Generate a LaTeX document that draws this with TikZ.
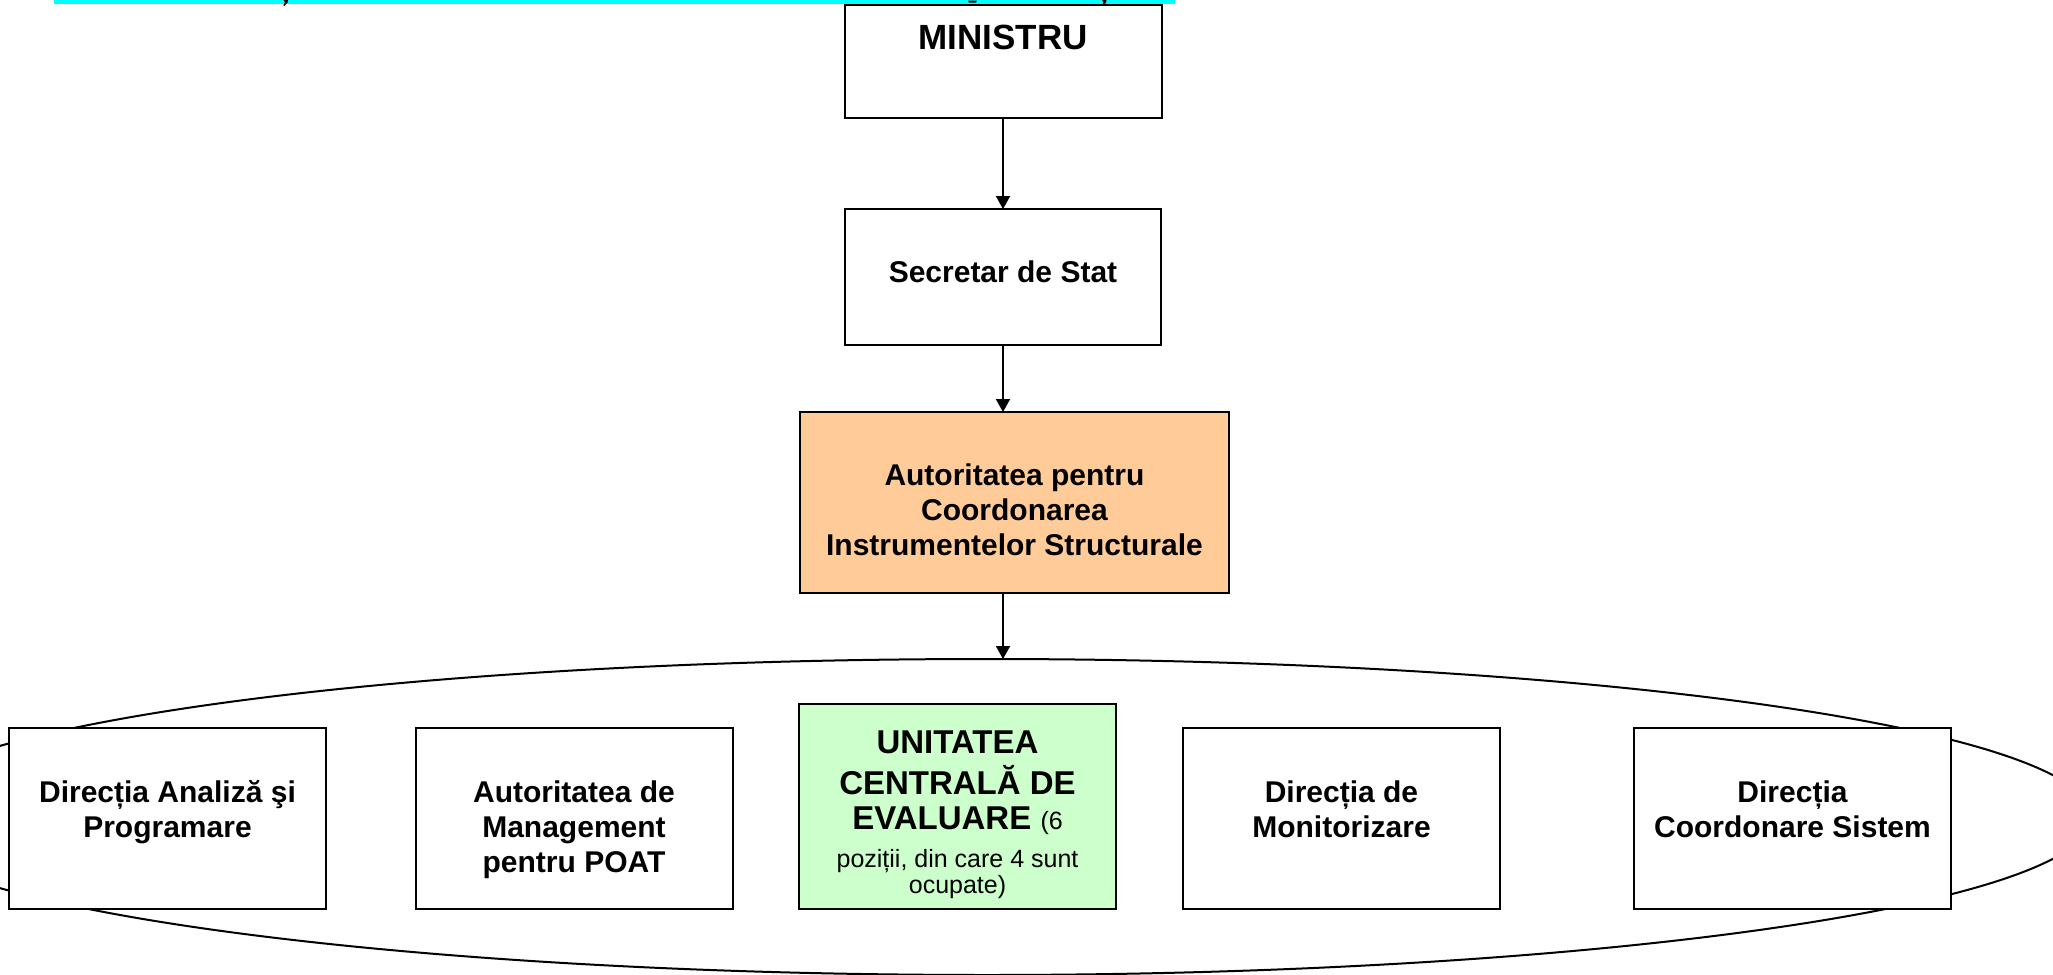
\documentclass[tikz,border=0pt]{standalone}
\usepackage{fontspec}
\setmainfont{Liberation Sans}
\usetikzlibrary{arrows.meta,shapes.geometric}
\definecolor{band}{RGB}{0,255,255}
\definecolor{peach}{RGB}{255,204,153}
\definecolor{mint}{RGB}{204,255,204}
\begin{document}
\begin{tikzpicture}[x=0.5pt,y=-0.5pt,
  boxst/.style={draw=black,line width=1pt,fill=white,inner sep=0pt,outer sep=0pt,rectangle},
  lowbox/.style={boxst,minimum width=158.5pt,minimum height=90.5pt},
  txt/.style={inner sep=0pt,outer sep=0pt,align=center,font=\fontsize{15}{17.5}\selectfont\bfseries},
  arr/.style={line width=1pt,-{Triangle[width=7pt,length=6.5pt]}},
]
\clip (0,0) rectangle (2053,975);
\useasboundingbox (0,0) rectangle (2053,975);
% top cyan band with cut-off descenders
\fill[band] (54,0) rectangle (1175,3.5);
\fill[black] (283.5,0) -- (288,0) -- (287.5,2.5) -- (284.5,6) -- (283.3,5.3) -- (285,2.5) -- cycle;
\fill[black] (968,0.5) -- (977,0.5) -- (976,2.6) -- (969,2.6) -- cycle;
\fill[black] (1102,0) -- (1106.5,0) -- (1106,2.5) -- (1103,6) -- (1101.8,5.3) -- (1103.5,2.5) -- cycle;

% group ellipse
\node[draw=black,line width=1pt,ellipse,minimum width=1105pt,minimum height=158pt,inner sep=0pt,outer sep=0pt] (grp) at (987,817) {};

\coordinate (ax) at (1003,0);

% boxes
\node[boxst,minimum width=158.5pt,minimum height=56.5pt] (min) at (1003.5,61.5) {};
\node[boxst,minimum width=158pt,minimum height=68pt] (sec) at (1003,277) {};
\node[boxst,fill=peach,minimum width=214.5pt,minimum height=90.5pt] (apcis) at (1014.5,502.5) {};
\node[lowbox] (b1) at (167.5,818) {};
\node[lowbox] (b2) at (574,818) {};
\node[boxst,fill=mint,minimum width=158.5pt,minimum height=102.25pt] (uce) at (957.5,806.25) {};
\node[lowbox] (b4) at (1341.5,818) {};
\node[lowbox] (b5) at (1792.5,818) {};

% texts
\node[txt,font=\fontsize{17.5}{21}\selectfont\bfseries,anchor=base] (tmin) at (1003,49) {MINISTRU};
\node[txt,anchor=base] (tsec) at (1003,282) {Secretar de Stat};
\node[txt,anchor=north] (tapcis) at (1014.5,460.5) {\strut Autoritatea pentru\\Coordonarea\\Instrumentelor Structurale};
\node[txt,anchor=north] (tb1) at (167.5,777.5) {\strut Direcția Analiză şi\\Programare};
\node[txt,anchor=north] (tb2) at (574,777.5) {\strut Autoritatea de\\Management\\pentru POAT};
\node[txt,font=\fontsize{16.5}{17.5}\selectfont\bfseries,anchor=north] (tuce) at (957.5,728.5) {\strut UNITATEA\\CENTRALĂ DE\\EVALUARE {\mdseries\fontsize{12.5}{13}\selectfont (6}};
\node[txt,font=\fontsize{12.5}{13}\selectfont,anchor=north] (tuce2) at (957.5,848.8) {\strut poziții, din care 4 sunt\\ocupate)};
\node[txt,anchor=north] (tb4) at (1341.5,777.5) {\strut Direcția de\\Monitorizare};
\node[txt,anchor=north] (tb5) at (1792.5,777.5) {\strut Direcția\\Coordonare Sistem};

% connectors
\draw[arr] (min.south -| ax) -- (sec.north -| ax);
\draw[arr] (sec.south -| ax) -- (apcis.north -| ax);
\draw[arr] (apcis.south -| ax) -- (grp.north -| ax);
\end{tikzpicture}
\end{document}
